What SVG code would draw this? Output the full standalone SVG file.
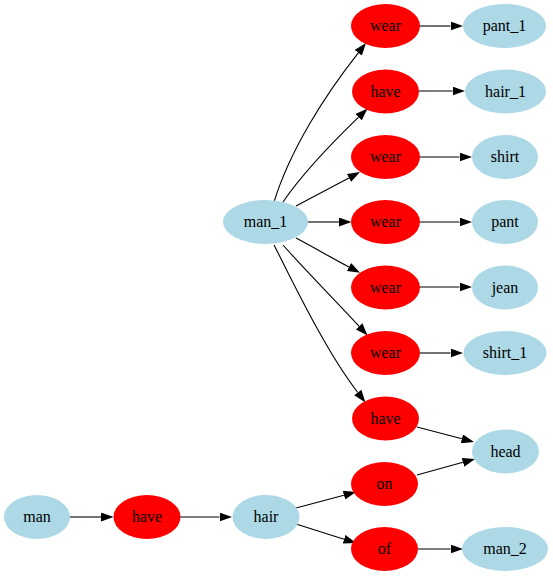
<svg xmlns="http://www.w3.org/2000/svg" width="553" height="576" viewBox="0 0 553 576">
  <defs>
    <style>
      .ent ellipse { fill: #add8e6; stroke: none; }
      .rel ellipse { fill: #ff0000; stroke: none; }
      text { font-family: "Liberation Serif", "Times New Roman", serif; font-size: 16px; text-anchor: middle; fill: #000; }
      .edges path { fill: none; stroke: #000; stroke-width: 1.1; marker-end: url(#arrow); }
    </style>
    <marker id="arrow" viewBox="0 0 12.5 9" refX="0" refY="4.5" markerWidth="12.5" markerHeight="9" markerUnits="userSpaceOnUse" orient="auto">
      <path d="M0,0 L12.5,4.5 L0,9 z" fill="#000"/>
    </marker>
  </defs>
  <rect width="553" height="576" fill="#fff"/>

  <g class="edges" id="edges">
    <path d="M70,517 L101,517"/>
    <path d="M180,517 L219.5,517"/>
    <path d="M296,508 L343.9,495.2"/>
    <path d="M296,524 L344.1,539.2"/>
    <path d="M418,549 L450.5,549"/>
    <path d="M417,475 L463,462.3"/>
    <path d="M417,427 L461.9,438.8"/>
    <path d="M420,26 L450.5,26"/>
    <path d="M419,91 L452.5,91"/>
    <path d="M420,157 L459.5,157"/>
    <path d="M420,222 L459.5,222"/>
    <path d="M420,287 L459.5,287"/>
    <path d="M420,353 L450.5,353"/>
    <path d="M308,222 L339,222"/>
    <path d="M296,206 C315,196 332,187 349,177.9"/>
    <path d="M296,238 C315,248 332,258 349,267"/>
    <path d="M283,202 C305,170 335,140 358.6,117.2"/>
    <path d="M274,202 C290,150 325,95 358.3,52.8"/>
    <path d="M283,245 C305,270 335,300 359.1,326.3"/>
    <path d="M274,245 C292,280 325,350 357.8,392.5"/>
  </g>

  <g id="man" class="ent"><ellipse cx="37" cy="517" rx="33" ry="22"/><text x="37" y="522">man</text></g>
  <g id="have_3" class="rel"><ellipse cx="147" cy="517" rx="33.5" ry="22"/><text x="147" y="522">have</text></g>
  <g id="hair" class="ent"><ellipse cx="266" cy="517" rx="33.5" ry="22"/><text x="266" y="522">hair</text></g>
  <g id="on" class="rel"><ellipse cx="384.5" cy="484" rx="33.5" ry="22"/><text x="384.5" y="489">on</text></g>
  <g id="of" class="rel"><ellipse cx="384.5" cy="549" rx="33.5" ry="22"/><text x="384.5" y="554">of</text></g>
  <g id="man_2" class="ent"><ellipse cx="505" cy="549" rx="43" ry="22"/><text x="505" y="554">man_2</text></g>
  <g id="head" class="ent"><ellipse cx="505.5" cy="451.5" rx="33.5" ry="22"/><text x="505.5" y="456.5">head</text></g>

  <g id="man_1" class="ent"><ellipse cx="265.5" cy="222" rx="42.5" ry="22"/><text x="265.5" y="227">man_1</text></g>

  <g id="wear_1" class="rel"><ellipse cx="385.5" cy="26" rx="34.5" ry="22"/><text x="385.5" y="31">wear</text></g>
  <g id="pant_1" class="ent"><ellipse cx="504.5" cy="26" rx="41.5" ry="22"/><text x="504.5" y="31">pant_1</text></g>
  <g id="have_1" class="rel"><ellipse cx="385.5" cy="91.5" rx="33.5" ry="22"/><text x="385.5" y="96.5">have</text></g>
  <g id="hair_1" class="ent"><ellipse cx="505.5" cy="91.5" rx="40.5" ry="22"/><text x="505.5" y="96.5">hair_1</text></g>
  <g id="wear_2" class="rel"><ellipse cx="385.5" cy="157" rx="34.5" ry="22"/><text x="385.5" y="162">wear</text></g>
  <g id="shirt" class="ent"><ellipse cx="505" cy="157" rx="33" ry="22"/><text x="505" y="162">shirt</text></g>
  <g id="wear_3" class="rel"><ellipse cx="385.5" cy="222" rx="34.5" ry="22"/><text x="385.5" y="227">wear</text></g>
  <g id="pant" class="ent"><ellipse cx="505" cy="222" rx="33" ry="22"/><text x="505" y="227">pant</text></g>
  <g id="wear_4" class="rel"><ellipse cx="385.5" cy="287.5" rx="34.5" ry="22"/><text x="385.5" y="292.5">wear</text></g>
  <g id="jean" class="ent"><ellipse cx="505" cy="287.5" rx="33" ry="22"/><text x="505" y="292.5">jean</text></g>
  <g id="wear_5" class="rel"><ellipse cx="385.5" cy="353" rx="34.5" ry="22"/><text x="385.5" y="358">wear</text></g>
  <g id="shirt_1" class="ent"><ellipse cx="505" cy="353" rx="41.5" ry="22"/><text x="505" y="358">shirt_1</text></g>
  <g id="have_2" class="rel"><ellipse cx="385.5" cy="418.5" rx="33.5" ry="22"/><text x="385.5" y="423.5">have</text></g>
</svg>
